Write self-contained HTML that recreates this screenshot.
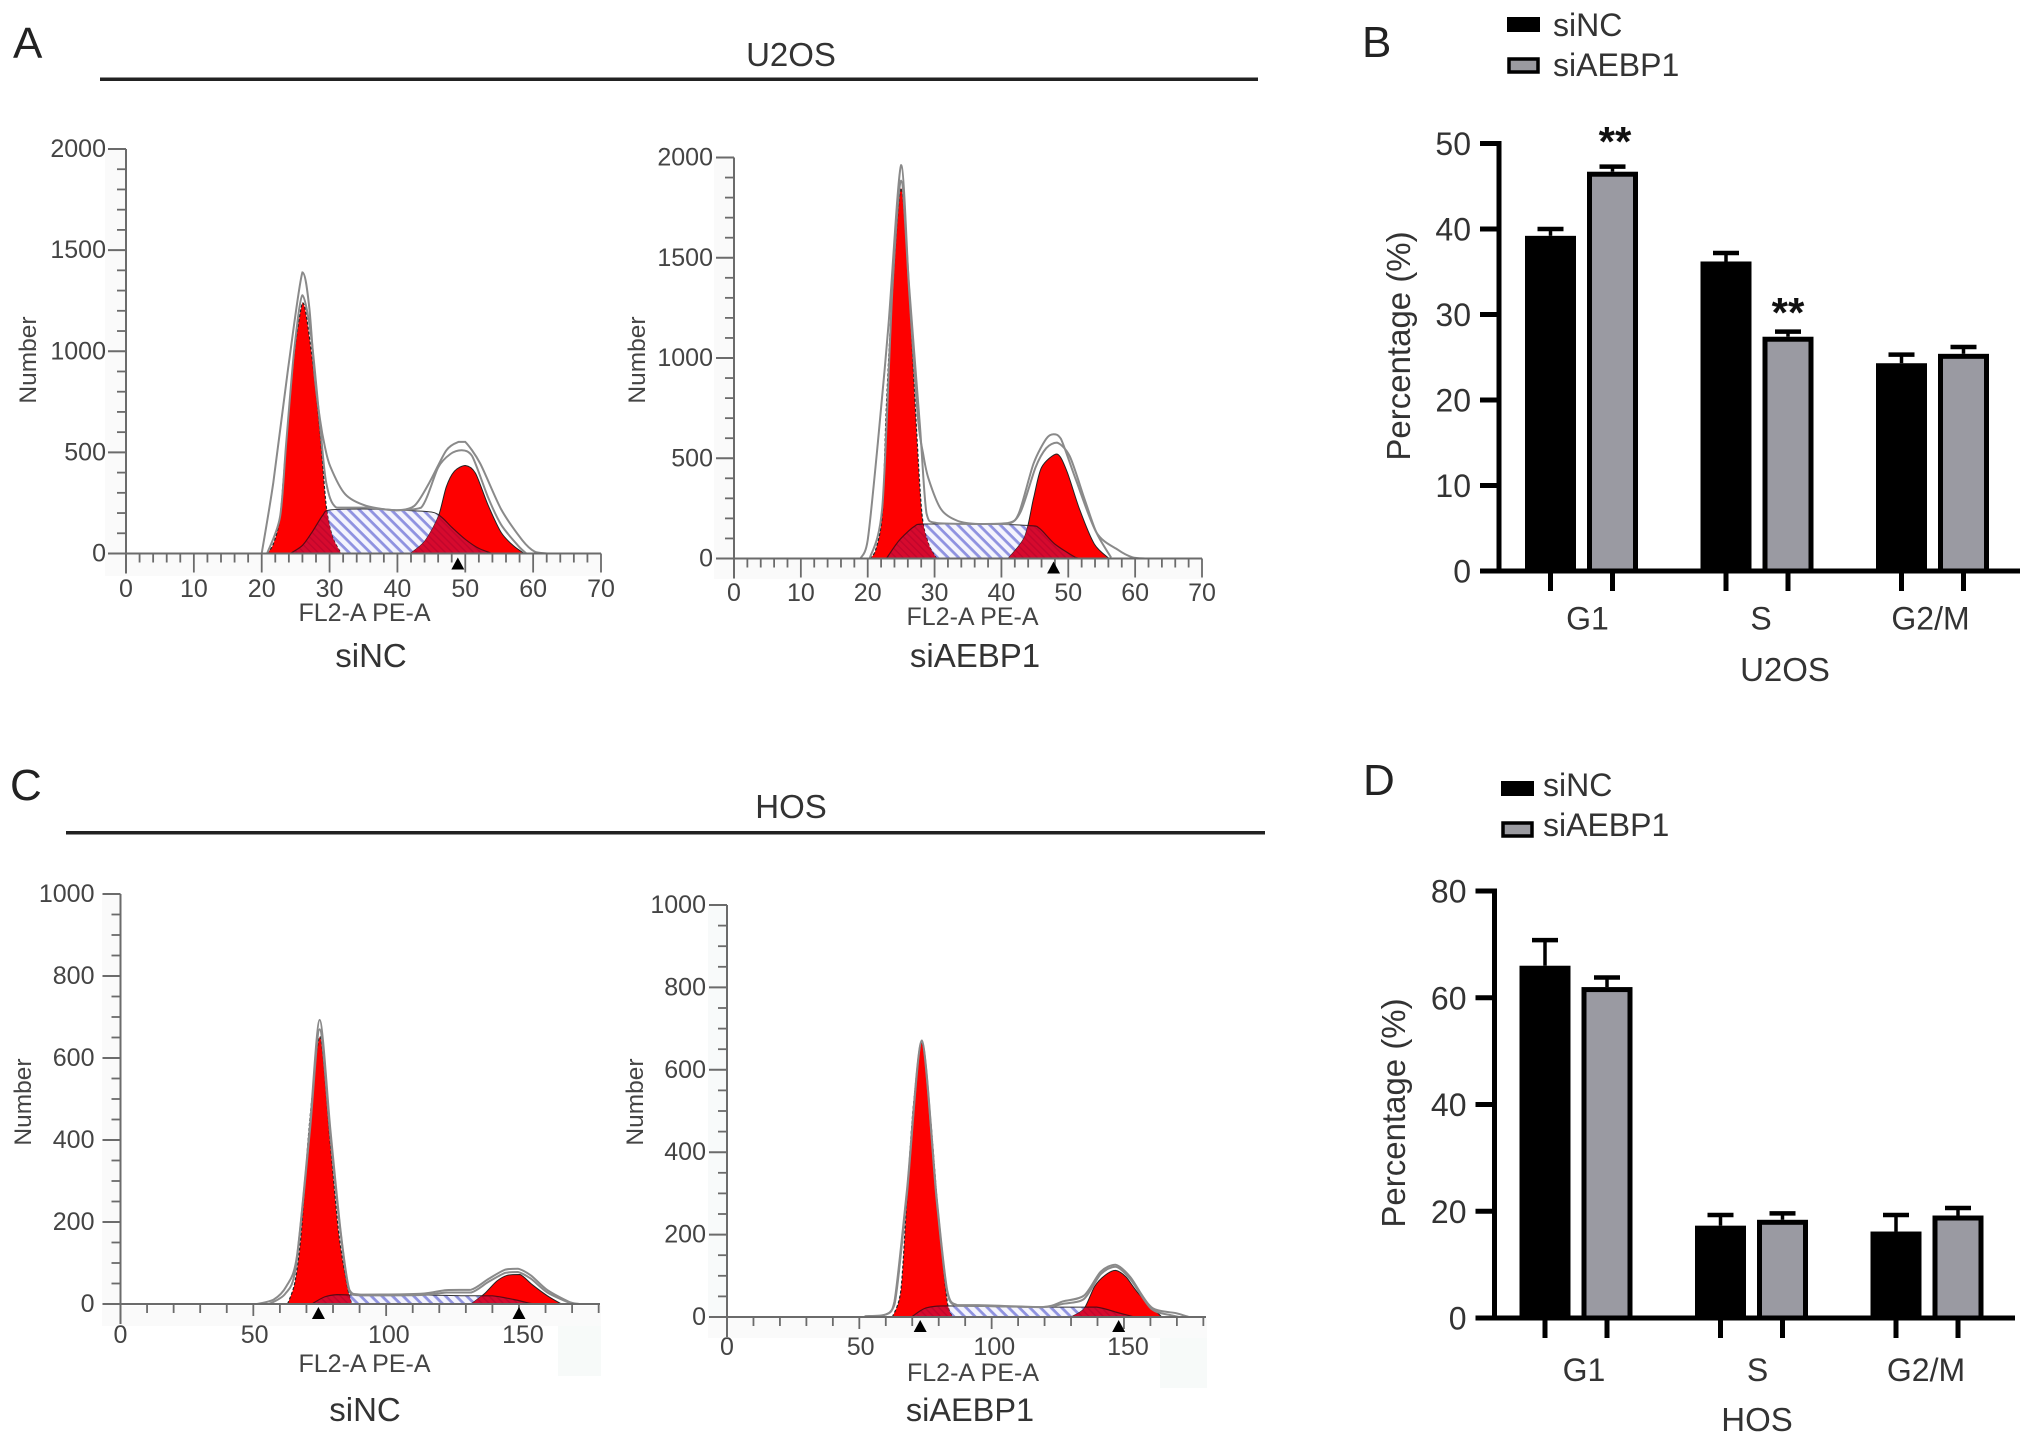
<!DOCTYPE html>
<html lang="en">
<head>
<meta charset="utf-8">
<title>Cell cycle analysis U2OS and HOS</title>
<style>
html,body{margin:0;padding:0;background:#fff;}
svg{display:block;font-family:"Liberation Sans",Arial,sans-serif;}
</style>
</head>
<body>
<svg id="figure" xmlns="http://www.w3.org/2000/svg" width="2032" height="1444" viewBox="0 0 2032 1444">
<defs>
<pattern id="hatch" patternUnits="userSpaceOnUse" width="7.5" height="7.5" patternTransform="rotate(45)">
<rect width="7.5" height="7.5" fill="#f4f4fd"/>
<rect width="7.5" height="2.8" fill="#8f92e0"/>
</pattern>
<pattern id="hatch-dark" patternUnits="userSpaceOnUse" width="5" height="5" patternTransform="rotate(45)">
<rect width="5" height="5" fill="#d60a2e"/>
<rect width="5" height="1.5" fill="#c2062c"/>
</pattern>
</defs>
<rect width="2032" height="1444" fill="#ffffff"/>

<text x="13" y="58" font-size="44" fill="#222">A</text>
<text x="1362" y="57" font-size="44" fill="#222">B</text>
<text x="10" y="800" font-size="44" fill="#222">C</text>
<text x="1363" y="795" font-size="44" fill="#222">D</text>

<text x="791" y="66" font-size="33" text-anchor="middle" fill="#333">U2OS</text>
<rect x="100" y="77.5" width="1158" height="3.5" fill="#222"/>
<text x="791" y="820" font-size="33" text-anchor="middle" fill="#333" transform="translate(0,-2)">HOS</text>
<rect x="66" y="831" width="1199" height="3.5" fill="#222"/>

<g>
<rect x="105" y="149" width="21" height="405" fill="#fafafa"/>
<rect x="105" y="554" width="496" height="22" fill="#fafafa"/>
<g id="h1"></g>
<text transform="translate(36,360) rotate(-90)" font-size="24.5" text-anchor="middle" fill="#444">Number</text>
<text x="364.5" y="621" font-size="25" text-anchor="middle" fill="#444">FL2-A PE-A</text>
<text x="371" y="667" font-size="33" text-anchor="middle" fill="#333">siNC</text>
</g>

<g>
<rect x="714" y="157" width="20" height="402" fill="#fafafa"/>
<rect x="714" y="559" width="489" height="20" fill="#fafafa"/>
<g id="h2"></g>
<text transform="translate(645,360) rotate(-90)" font-size="24.5" text-anchor="middle" fill="#444">Number</text>
<text x="972.5" y="625" font-size="25" text-anchor="middle" fill="#444">FL2-A PE-A</text>
<text x="975" y="667" font-size="33" text-anchor="middle" fill="#333">siAEBP1</text>
</g>

<g>
<rect x="102" y="894" width="18" height="412" fill="#fafafa"/>
<rect x="102" y="1306" width="499" height="20" fill="#fafafa"/>
<rect x="558" y="1326" width="43" height="50" fill="#f7faf9"/>
<g id="h3"></g>
<text transform="translate(31,1102) rotate(-90)" font-size="24.5" text-anchor="middle" fill="#444">Number</text>
<text x="364.5" y="1372" font-size="25" text-anchor="middle" fill="#444">FL2-A PE-A</text>
<text x="365" y="1421" font-size="33" text-anchor="middle" fill="#333">siNC</text>
</g>

<g>
<rect x="708" y="905" width="19" height="413" fill="#f8fafa"/>
<rect x="708" y="1318" width="499" height="20" fill="#fafafa"/>
<rect x="1160" y="1338" width="47" height="50" fill="#f7faf9"/>
<g id="h4"></g>
<text transform="translate(643,1102) rotate(-90)" font-size="24.5" text-anchor="middle" fill="#444">Number</text>
<text x="973" y="1381" font-size="25" text-anchor="middle" fill="#444">FL2-A PE-A</text>
<text x="970" y="1421" font-size="32.5" text-anchor="middle" fill="#333">siAEBP1</text>
</g>

<g>
<rect x="1507" y="17" width="33" height="15" fill="#000"/>
<text x="1553" y="36" font-size="32" fill="#333">siNC</text>
<rect x="1509" y="59" width="29" height="13" fill="#9a9aa0" stroke="#000" stroke-width="3.5"/>
<text x="1553" y="76" font-size="32" fill="#333">siAEBP1</text>
<g id="b1"></g>
<text transform="translate(1410,346) rotate(-90)" font-size="33" text-anchor="middle" fill="#333">Percentage (%)</text>
<text x="1785" y="681" font-size="33" text-anchor="middle" fill="#333">U2OS</text>
<text x="1615" y="156" font-size="42" font-weight="bold" text-anchor="middle" fill="#111">**</text>
<text x="1788" y="327" font-size="42" font-weight="bold" text-anchor="middle" fill="#111">**</text>
</g>

<g>
<rect x="1501" y="781" width="33" height="15" fill="#000"/>
<text x="1543" y="796" font-size="32" fill="#333">siNC</text>
<rect x="1503" y="823" width="29" height="13" fill="#9a9aa0" stroke="#000" stroke-width="3.5"/>
<text x="1543" y="836" font-size="32" fill="#333">siAEBP1</text>
<g id="b2"></g>
<text transform="translate(1405,1113) rotate(-90)" font-size="33" text-anchor="middle" fill="#333">Percentage (%)</text>
<text x="1757" y="1431" font-size="33" text-anchor="middle" fill="#333">HOS</text>
</g>
</svg>

<script>
/* ---------- Flow histogram data: [channel, count] pairs ---------- */
const u2osSincG1 = [[20.8,0],[21.7,47],[22.7,180],[23.6,540],[24.8,990],[26,1240],[26.6,1170],[27.6,918],[28.6,596],[29.5,236],[30.4,85],[31.7,0]];
const u2osSincG2 = [[41.9,0],[44,60],[46,180],[47.2,330],[48.4,407],[50,435],[51.5,397],[53.4,236],[55.3,104],[57.1,38],[58.7,0]];
const u2osSincS = [[24.2,0],[26,40],[27.5,110],[29,190],[30,215],[35,220],[40,215],[45,205],[46.5,180],[48,130],[50,70],[52,25],[54,0]];
const u2osSincOuter = [[20,0],[21.7,350],[23.9,918],[26,1390],[27,1220],[27.8,880],[28.6,660],[29.3,530],[30.1,430],[32.3,293],[35.4,236],[39.8,214],[42.5,236],[44.7,350],[47.2,510],[49,552],[50,552],[52.2,445],[55.3,218],[58.4,66],[60.2,10],[62,0]];
const u2osSincInner = [[20.8,0],[22.7,180],[23.6,540],[24.8,1010],[26,1277],[27.3,1069],[28.6,634],[29.5,350],[31,227],[35.4,227],[39.8,214],[43.5,227],[46,425],[47.8,492],[49.4,511],[51,482],[53.4,274],[55.3,142],[57.8,38],[59,0]];
const u2osSincMarkers = [48.9];

const u2osSiaebp1G1 = [[20.3,0],[21.2,44],[22.2,225],[22.8,760],[23.7,1332],[25,1847],[26.2,1332],[27.2,702],[28.1,225],[29.1,72],[30.3,0]];
const u2osSiaebp1G2 = [[41,0],[43.5,110],[44.8,300],[46,454],[48.3,521],[49.8,435],[51.7,244],[53.9,72],[56.1,0]];
const u2osSiaebp1S = [[22.8,0],[24.7,90],[26.9,158],[28.4,172],[36.6,172],[44.2,164],[45.7,150],[48,72],[51.1,5],[52,0]];
const u2osSiaebp1Outer = [[18.9,0],[20,92],[21.5,569],[23.1,1160],[25,1962],[26.2,1332],[27.5,702],[28.3,520],[29.1,397],[31,244],[33.5,187],[36.6,172],[41,177],[42.6,225],[44.8,473],[46.7,597],[47.8,620],[48.9,597],[51.1,397],[54.2,130],[57.4,44],[59.6,6],[61.5,0]];
const u2osSiaebp1Inner = [[20.3,0],[22.2,262],[23.7,1352],[25,1885],[26.2,1352],[27.8,664],[28.8,225],[30.3,177],[36.6,172],[41,172],[42.9,235],[45.1,454],[46.7,550],[48.3,578],[50.2,511],[52.4,300],[54.2,130],[56.4,5]];
const u2osSiaebp1Markers = [47.8];

const hosSincG1 = [[62.9,0],[65.6,52],[68,170],[71.2,443],[75.1,652],[79,389],[82.2,170],[85.4,43],[87,0]];
const hosSincG2 = [[132,0],[137,25],[141.7,56],[145.6,70],[150.4,72],[155,47],[160.7,20],[166,0]];
const hosSincS = [[72,0],[76.7,17],[81.5,23],[88,22],[113,22],[130.6,20],[140,20],[148,11],[154,2],[157,0]];
const hosSincOuter = [[51.3,0],[57.7,11],[62.4,43],[66.4,116],[71.2,425],[75,693],[79,425],[83,170],[86.2,34],[90.9,23],[113,25],[122.7,34],[132,35],[138.5,61],[144.9,84],[149.6,86],[154.4,70],[160.7,34],[168.6,6],[172.6,0]];
const hosSincInner = [[56,0],[62,25],[66,90],[71.2,415],[75,670],[79,410],[83,165],[86.2,30],[90.9,21],[113,22],[122.7,28],[132,28],[138.5,54],[144.9,76],[149.6,78],[154.4,62],[160.7,28],[168.6,4],[171,0]];
const hosSincMarkers = [74.5,150];

const hosSiaebp1G1 = [[62.5,0],[65.7,65],[68,291],[70.5,518],[73.6,667],[76.8,490],[80,237],[83.2,38],[85.3,0]];
const hosSiaebp1G2 = [[130,0],[134.9,20],[138.9,74],[142.8,101],[146.8,113],[150.8,97],[155.6,56],[164.3,0]];
const hosSiaebp1S = [[69.7,0],[75.2,22],[84,27],[111,24],[128.5,24],[139.7,24],[147.5,11],[153.9,0]];
const hosSiaebp1Outer = [[52,2],[60,6],[63.3,38],[68,309],[73.6,671],[79.2,291],[83.2,65],[87,29],[95,29],[119,24],[127,38],[134.9,52],[141.2,110],[146.8,127],[152.4,97],[160.3,24],[169.9,9],[174.6,0]];
const hosSiaebp1Inner = [[58,2],[63.3,30],[68,300],[73.6,668],[79.2,285],[83.2,60],[87,27],[95,27],[119,24],[127,32],[134.9,44],[141.2,104],[146.8,122],[152.4,92],[160.3,20],[168,4],[171,0]];
const hosSiaebp1Markers = [73,148];

const u2osXTickLabels = [0,10,20,30,40,50,60,70];
const u2osYTickLabels = [0,500,1000,1500,2000];
const hosXTickLabels = [0,50,100,150];
const hosYTickLabels = [0,200,400,600,800,1000];

/* ---------- Bar chart data ---------- */
const phaseCategories = ["G1","S","G2/M"];
const u2osSincValues = [39.2,36.2,24.3];
const u2osSincErrorTops = [40,37.2,25.3];
const u2osSiaebp1Values = [46.7,27.4,25.4];
const u2osSiaebp1ErrorTops = [47.3,28,26.2];
const u2osPercentTicks = [0,10,20,30,40,50];
const hosSincValues = [66,17.3,16.2];
const hosSincErrorTops = [70.8,19.3,19.3];
const hosSiaebp1Values = [62,18.4,19.2];
const hosSiaebp1ErrorTops = [63.8,19.6,20.6];
const hosPercentTicks = [0,20,40,60,80];

const NS = "http://www.w3.org/2000/svg";
function make(parent, tag, props, text){
  const e = document.createElementNS(NS, tag);
  for (const k in props) e.setAttribute(k, props[k]);
  if (text !== undefined) e.textContent = text;
  parent.appendChild(e);
  return e;
}
function smoothPath(pts, close){
  let d = "M" + pts[0][0].toFixed(1) + " " + pts[0][1].toFixed(1);
  for (let i = 0; i < pts.length - 1; i++){
    const p0 = pts[Math.max(i-1,0)], p1 = pts[i], p2 = pts[i+1], p3 = pts[Math.min(i+2,pts.length-1)];
    const k = 0.14;
    const c1x = p1[0] + (p2[0]-p0[0])*k, c1y = Math.min(Math.max(p1[1] + (p2[1]-p0[1])*k, Math.min(p1[1],p2[1])), Math.max(p1[1],p2[1]));
    const c2x = p2[0] - (p3[0]-p1[0])*k, c2y = Math.min(Math.max(p2[1] - (p3[1]-p1[1])*k, Math.min(p1[1],p2[1])), Math.max(p1[1],p2[1]));
    d += "C" + c1x.toFixed(1) + " " + c1y.toFixed(1) + " " + c2x.toFixed(1) + " " + c2y.toFixed(1) + " " + p2[0].toFixed(1) + " " + p2[1].toFixed(1);
  }
  return close ? d + "Z" : d;
}

function drawHistogram(cfg){
  const g = document.getElementById(cfg.host);
  const sx = v => cfg.x0 + (v / cfg.xMax) * (cfg.x1 - cfg.x0);
  const sy = v => cfg.y0 - (v / cfg.yMax) * (cfg.y0 - cfg.y1);
  const project = arr => arr.map(p => [sx(p[0]), sy(p[1])]);
  const areaPath = arr => smoothPath(project(arr), true);
  const linePath = arr => smoothPath(project(arr), false);

  const s = make(g, "path", {d: areaPath(cfg.s), fill: "url(#hatch)", stroke: "#333", "stroke-width": 1});
  
  

  const g1 = make(g, "path", {d: areaPath(cfg.g1), fill: "#fe0000", stroke: "#222", "stroke-width": 1.2, "stroke-dasharray": "3 2"});
  
  

  const g2 = make(g, "path", {d: areaPath(cfg.g2), fill: "#fe0000", stroke: "#222", "stroke-width": 1});
  
  

  const clipId = cfg.host + "-clip";
  const clip = make(g, "clipPath", {id: clipId});
  make(clip, "path", {d: areaPath(cfg.g1)});
  make(clip, "path", {d: areaPath(cfg.g2)});
  const overlap = make(g, "path", {d: areaPath(cfg.s), fill: "url(#hatch-dark)", stroke: "#5a0a14", "stroke-width": 1.2, "clip-path": "url(#" + clipId + ")"});
  
  

  const outer = make(g, "path", {d: linePath(cfg.outer), fill: "none", stroke: "#8a8a8a", "stroke-width": 2});
  
  

  const inner = make(g, "path", {d: linePath(cfg.inner), fill: "none", stroke: "#8a8a8a", "stroke-width": 2});
  
  

  const axisColor = "#6b6b6b";
  const yAxis = make(g, "line", {x1: cfg.x0, x2: cfg.x0, y1: sy(cfg.yMax), y2: cfg.y0 + 20, stroke: axisColor, "stroke-width": 2});
  
  
  const xAxis = make(g, "line", {x1: cfg.x0 - 18, x2: cfg.x1, y1: cfg.y0, y2: cfg.y0, stroke: axisColor, "stroke-width": 2});
  
  

  for (let v = 0; v <= cfg.yMax + 0.01; v += cfg.yMinor){
    const major = Math.abs(v / cfg.yMajor - Math.round(v / cfg.yMajor)) < 1e-6;
    const t = make(g, "line", {x1: cfg.x0 - (major ? 18 : 9), x2: cfg.x0, y1: sy(v), y2: sy(v), stroke: axisColor, "stroke-width": major ? 2 : 1.8});
    
    
  }
  for (let v = cfg.xMinor; v <= cfg.xMax + 0.01; v += cfg.xMinor){
    const major = Math.abs(v / cfg.xMajor - Math.round(v / cfg.xMajor)) < 1e-6;
    const t = make(g, "line", {x1: sx(v), x2: sx(v), y1: cfg.y0, y2: cfg.y0 + (major ? cfg.xMajorLen : 9), stroke: axisColor, "stroke-width": 1.8});
    
    
  }
  cfg.yLabels.forEach(v => {
    const t = make(g, "text", {x: cfg.x0 - cfg.labelGap, y: sy(v) + 8, "font-size": 25, "text-anchor": "end", fill: "#444"}, String(v));
    
    
  });
  cfg.xLabels.forEach(v => {
    const t = make(g, "text", {x: sx(v * cfg.labelStretch), y: cfg.xLabelY, "font-size": 25, "text-anchor": "middle", fill: "#444"}, String(v));
    
    
  });
  cfg.markers.forEach(v => {
    const x = sx(v), top = cfg.y0 + cfg.markerGap, bot = top + 12;
    const m = make(g, "path", {d: "M" + x + " " + top + "L" + (x + 6.5) + " " + bot + "L" + (x - 6.5) + " " + bot + "Z", fill: "#000"});
    
    
  });
}

drawHistogram({host:"h1", x0:126, x1:601, y0:553.5, y1:149, xMax:70, yMax:2000, xMinor:2, xMajor:10, xMajorLen:19, yMinor:100, yMajor:500,
  g1:u2osSincG1, g2:u2osSincG2, s:u2osSincS, outer:u2osSincOuter, inner:u2osSincInner, markers:u2osSincMarkers,
  xLabels:u2osXTickLabels, yLabels:u2osYTickLabels, xLabelY:597, markerGap:4, labelGap:20, labelStretch:1});
drawHistogram({host:"h2", x0:734, x1:1202, y0:558.5, y1:157.5, xMax:70, yMax:2000, xMinor:2, xMajor:10, xMajorLen:19, yMinor:100, yMajor:500,
  g1:u2osSiaebp1G1, g2:u2osSiaebp1G2, s:u2osSiaebp1S, outer:u2osSiaebp1Outer, inner:u2osSiaebp1Inner, markers:u2osSiaebp1Markers,
  xLabels:u2osXTickLabels, yLabels:u2osYTickLabels, xLabelY:601, markerGap:3, labelGap:21, labelStretch:1});
drawHistogram({host:"h3", x0:120.5, x1:600, y0:1304, y1:894, xMax:180.5, yMax:1000, xMinor:10, xMajor:50, xMajorLen:12, yMinor:50, yMajor:200,
  g1:hosSincG1, g2:hosSincG2, s:hosSincS, outer:hosSincOuter, inner:hosSincInner, markers:hosSincMarkers,
  xLabels:hosXTickLabels, yLabels:hosYTickLabels, xLabelY:1343, markerGap:3, labelGap:26, labelStretch:1.01});
drawHistogram({host:"h4", x0:727, x1:1206, y0:1317, y1:905, xMax:181, yMax:1000, xMinor:10, xMajor:50, xMajorLen:12, yMinor:50, yMajor:200,
  g1:hosSiaebp1G1, g2:hosSiaebp1G2, s:hosSiaebp1S, outer:hosSiaebp1Outer, inner:hosSiaebp1Inner, markers:hosSiaebp1Markers,
  xLabels:hosXTickLabels, yLabels:hosYTickLabels, xLabelY:1355, markerGap:3, labelGap:21, labelStretch:1.01});

function drawBars(cfg){
  const g = document.getElementById(cfg.host);
  const sy = v => cfg.y0 - (v / cfg.yMax) * (cfg.y0 - cfg.yTop);
  const barW = 51, offset = 31, sw = 5;
  phaseCategories.forEach((cat, i) => {
    const center = cfg.firstCenter + i * cfg.groupGap;
    [[cfg.a, cfg.aErr, "#000", -offset, "sinc"], [cfg.b, cfg.bErr, "#9a9aa2", offset, "siaebp1"]].forEach(s => {
      const cx = center + s[3], v = s[0][i], e = s[1][i];
      const stem = make(g, "line", {x1: cx, x2: cx, y1: sy(v), y2: sy(e), stroke: "#000", "stroke-width": 3.5});
      
      
      const cap = make(g, "line", {x1: cx - 13, x2: cx + 13, y1: sy(e), y2: sy(e), stroke: "#000", "stroke-width": 4.5});
      
      
      const bar = make(g, "rect", {x: cx - barW/2 + sw/2, y: sy(v) + sw/2, width: barW - sw, height: Math.max(0, cfg.y0 - sy(v) - sw/2), fill: s[2], stroke: "#000", "stroke-width": sw});
      
      
      const tick = make(g, "line", {x1: cx, x2: cx, y1: cfg.y0, y2: cfg.y0 + 20, stroke: "#000", "stroke-width": 5});
      
      
    });
    const lab = make(g, "text", {x: center + cfg.labelShift[i], y: cfg.labelY, "font-size": 32, "text-anchor": "middle", fill: "#333"}, cat);
    
    
  });
  const yAxis = make(g, "line", {x1: cfg.axisX, x2: cfg.axisX, y1: sy(cfg.yMax) - 2.5, y2: cfg.y0 + 2.5, stroke: "#000", "stroke-width": 5});
  
  
  const xAxis = make(g, "line", {x1: cfg.axisX - 19, x2: cfg.axisEnd, y1: cfg.y0, y2: cfg.y0, stroke: "#000", "stroke-width": 5});
  
  
  cfg.ticks.forEach(v => {
    const t = make(g, "line", {x1: cfg.axisX - 19, x2: cfg.axisX, y1: sy(v), y2: sy(v), stroke: "#000", "stroke-width": 5});
    
    
    const l = make(g, "text", {x: cfg.axisX - 28, y: sy(v) + 11.5, "font-size": 32, "text-anchor": "end", fill: "#333"}, String(v));
    
    
  });
}
drawBars({host:"b1", y0:571, yTop:143.5, yMax:50, axisX:1499, axisEnd:2020, firstCenter:1581.5, groupGap:175.5,
  a:u2osSincValues, aErr:u2osSincErrorTops, b:u2osSiaebp1Values, bErr:u2osSiaebp1ErrorTops, ticks:u2osPercentTicks, labelY:629.5, labelShift:[6,4,-2]});
drawBars({host:"b2", y0:1318, yTop:891, yMax:80, axisX:1494.5, axisEnd:2015, firstCenter:1576, groupGap:175.5,
  a:hosSincValues, aErr:hosSincErrorTops, b:hosSiaebp1Values, bErr:hosSiaebp1ErrorTops, ticks:hosPercentTicks, labelY:1381, labelShift:[8,6,-1]});
</script>
</body>
</html>
